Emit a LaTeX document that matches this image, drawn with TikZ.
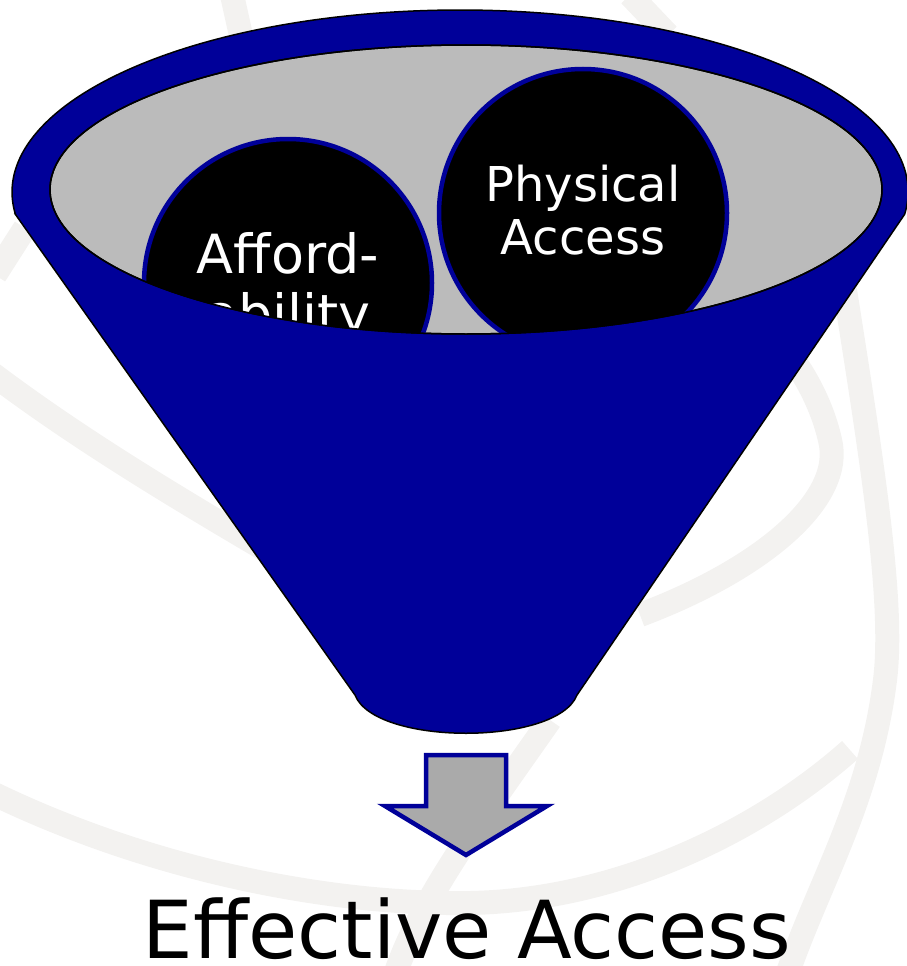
\documentclass[tikz,border=0pt]{standalone}
\usepackage{fontspec}
\setmainfont{DejaVu Sans}

\definecolor{funnelblue}{HTML}{000099}
\definecolor{mouthgray}{HTML}{BBBBBB}
\definecolor{arrowgray}{HTML}{AAAAAA}
\definecolor{swirlgray}{HTML}{F3F2F0}

\tikzset{
  swirl/.style={draw=swirlgray, line width=24pt},
  funnel/.style={fill=funnelblue, draw=black, line width=1.5pt},
  ball/.style={circle, fill=black, draw=funnelblue, line width=4.5pt,
               minimum size=288pt, inner sep=0pt},
  balltext/.style={text=white, align=center},
}

\begin{document}
\begin{tikzpicture}[x=1pt,y=-1pt]
  \useasboundingbox (0,0) rectangle (907,966);

  % faint swirl in the background
  \draw[swirl] (232,-5) -- (242,40);
  \draw[swirl] (630,-5) -- (668,35);
  \draw[swirl] (-5,275) -- (25,228);
  \draw[swirl] (-10,372) .. controls (80,440) and (180,500) .. (300,570);
  \draw[swirl] (640,615) .. controls (760,570) and (845,500) .. (830,440)
               .. controls (822,405) and (805,375) .. (790,355);
  \draw[swirl] (845,290) .. controls (870,450) and (895,600) .. (885,680)
               .. controls (870,800) and (820,880) .. (787,975);
  \draw[swirl] (-10,792) .. controls (150,870) and (330,905) .. (470,903)
               .. controls (620,900) and (760,830) .. (850,750);
  \draw[swirl] (550,720) .. controls (480,820) and (420,900) .. (395,975);

  % funnel: rim on top, cone below
  \draw[funnel] (15.3,214.2) -- (355,695)
    .. controls (375,746) and (557,746) .. (577,695)
    -- (904.7,214.2) arc[start angle=7, end angle=-187, x radius=448, y radius=182]
    -- cycle;

  % mouth of the funnel
  \filldraw[fill=mouthgray, draw=black, line width=1.5pt]
    (466,189.5) ellipse[x radius=416, y radius=144.5];

  % balls sinking into the funnel
  \begin{scope}
    \clip (466,189.5) ellipse[x radius=416, y radius=144.5];
    \node[ball] (afford) at (288,283) {};
    \node[balltext, font=\fontsize{54}{60}\selectfont]
      (affordtext) at ([yshift=-6pt]afford.center) {Afford-\\ability};
    \node[ball] (physical) at (583,213) {};
    \node[balltext, font=\fontsize{48}{53}\selectfont]
      (physicaltext) at ([yshift=3pt]physical.center) {Physical\\Access};
  \end{scope}
  \draw[black, line width=1.5pt] (466,189.5) ellipse[x radius=416, y radius=144.5];

  % arrow out of the funnel
  \filldraw[fill=arrowgray, draw=funnelblue, line width=4.5pt]
    (426,755) -- (506,755) -- (506,806) -- (547,806) -- (466,855)
    -- (385,806) -- (426,806) -- cycle;

  \node[font=\fontsize{80}{90}\selectfont, anchor=base, inner sep=0pt]
    (effective) at (467,958) {Effective Access};
\end{tikzpicture}
\end{document}
